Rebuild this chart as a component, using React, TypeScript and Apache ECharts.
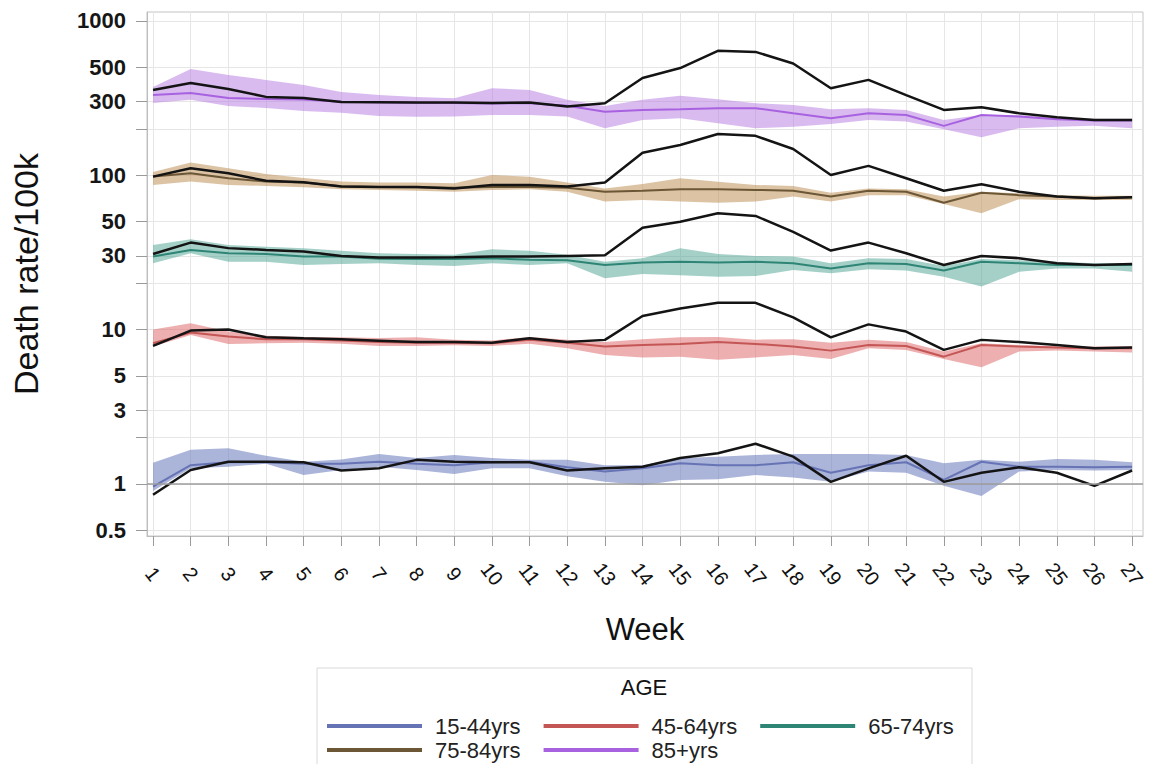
import React, { useEffect, useRef } from "react";
import * as echarts from "echarts";

const FONT = "'Liberation Sans', Arial, Helvetica, sans-serif";

const weeks = [1, 2, 3, 4, 5, 6, 7, 8, 9, 10, 11, 12, 13, 14, 15, 16, 17, 18, 19, 20, 21, 22, 23, 24, 25, 26, 27];
const ageGroups = ["15-44yrs", "45-64yrs", "65-74yrs", "75-84yrs", "85+yrs"];

const yTickValues = [0.5, 1, 2, 3, 5, 10, 20, 30, 50, 100, 200, 300, 500, 1000];
const yLabelValues = [0.5, 1, 3, 5, 10, 30, 50, 100, 300, 500, 1000];

// 15-44yrs
const obs15 = [0.85, 1.23, 1.39, 1.39, 1.38, 1.22, 1.26, 1.43, 1.39, 1.38, 1.38, 1.22, 1.26, 1.29, 1.47, 1.58, 1.82, 1.5, 1.03, 1.26, 1.52, 1.03, 1.18, 1.28, 1.18, 0.97, 1.22];
const exp15 = [0.96, 1.32, 1.38, 1.38, 1.35, 1.35, 1.39, 1.35, 1.32, 1.38, 1.39, 1.28, 1.2, 1.26, 1.36, 1.32, 1.32, 1.38, 1.18, 1.32, 1.38, 1.06, 1.39, 1.29, 1.29, 1.28, 1.29];
const up15 = [1.37, 1.66, 1.7, 1.52, 1.39, 1.44, 1.56, 1.47, 1.54, 1.47, 1.43, 1.43, 1.32, 1.32, 1.47, 1.5, 1.54, 1.56, 1.56, 1.56, 1.54, 1.36, 1.43, 1.39, 1.45, 1.43, 1.38];
const lo15 = [0.9, 1.26, 1.29, 1.35, 1.14, 1.23, 1.29, 1.23, 1.16, 1.26, 1.26, 1.12, 1.03, 0.98, 1.06, 1.07, 1.14, 1.1, 1.03, 1.2, 1.18, 0.97, 0.835, 1.2, 1.23, 1.22, 1.23];

// 45-64yrs
const obs45 = [7.83, 9.84, 10, 8.9, 8.77, 8.65, 8.47, 8.3, 8.3, 8.22, 8.77, 8.3, 8.57, 12.25, 13.7, 14.9, 14.9, 12, 8.9, 10.8, 9.7, 7.38, 8.57, 8.3, 7.94, 7.56, 7.64];
const exp45 = [8.15, 9.55, 9, 8.65, 8.65, 8.5, 8.3, 8.22, 8.22, 8.15, 8.57, 8.22, 7.75, 7.94, 8.07, 8.3, 8.07, 7.75, 7.3, 7.94, 7.83, 6.67, 7.94, 7.75, 7.64, 7.56, 7.56];
const up45 = [10, 11, 9.7, 9.1, 8.95, 8.9, 8.8, 8.9, 8.6, 8.5, 8.95, 8.6, 8.3, 8.65, 8.9, 8.95, 8.6, 8.65, 8.2, 8.57, 8.3, 7.2, 8.15, 7.94, 7.8, 7.75, 7.8];
const lo45 = [7.75, 9.22, 8.07, 8.15, 8.22, 8.1, 7.83, 7.83, 7.9, 7.83, 8.1, 7.56, 6.84, 6.6, 6.67, 6.36, 6.6, 6.84, 6.45, 7.56, 7.38, 6.45, 5.7, 7.2, 7.3, 7.2, 7.1];

// 65-74yrs
const obs65 = [30.9, 36.6, 33.7, 32.8, 32, 30, 29.3, 29.3, 29.4, 29.7, 29.7, 30, 30.3, 45.7, 50, 56.7, 54.5, 43, 32.5, 36.6, 31.2, 26.2, 30, 29, 26.9, 26.2, 26.6];
const exp65 = [29.7, 32.8, 31.2, 30.9, 29.7, 29.7, 28.8, 28.6, 28.6, 29, 28.3, 28.1, 26.2, 27.2, 27.5, 27.2, 27.5, 26.9, 24.9, 26.9, 26.6, 24.1, 27.5, 26.9, 26.2, 26.2, 26.2];
const up65 = [35.3, 38.5, 35.3, 34.4, 33.7, 32.4, 31.2, 30.9, 30.5, 33.1, 32.4, 30.5, 27.5, 29, 33.7, 30.9, 30, 29.7, 26.9, 29, 28.6, 25.8, 28.6, 28.1, 27.5, 26.9, 26.9];
const lo65 = [26.9, 31.2, 27.5, 27.5, 26.2, 26.6, 26.9, 26.2, 25.8, 26.9, 26.2, 26.9, 21.5, 22.9, 22.5, 22, 22.2, 24.3, 23.2, 24.6, 24.1, 22, 19, 23.7, 24.9, 24.9, 23.7];

// 75-84yrs
const obs75 = [98, 111, 103, 92, 90, 84.5, 84, 84, 82, 86.5, 86.5, 84.4, 89.6, 140, 157, 185, 180, 148, 100.5, 115, 95.6, 79.4, 87.4, 78.2, 72.7, 70.9, 71.9];
const exp75 = [98, 103, 95.6, 91, 89.6, 85, 84, 83.5, 83, 84, 84, 83, 78.3, 79.4, 81, 81, 80.3, 79.4, 72.7, 79.4, 78.2, 66.4, 77.1, 74.3, 72.7, 70.9, 71.9];
const up75 = [105, 121, 111, 102, 96, 91, 89.6, 89.6, 88.6, 100.5, 97.9, 89.6, 82.2, 87.8, 95.6, 90.9, 86.5, 85.3, 77.1, 82.2, 81.1, 72.7, 78.2, 76.5, 74.3, 73.5, 73.5];
const lo75 = [86.5, 91, 86.5, 85.3, 83.6, 81.1, 80.3, 79.4, 78.2, 80.3, 81, 78.2, 67.5, 69.2, 67.5, 66.4, 67.5, 72.7, 67.5, 74.3, 74.3, 65.2, 56.7, 70, 69.2, 69.2, 69.2];

// 85+yrs
const obs85 = [357, 396, 362, 322, 317, 298, 297, 296, 296, 294, 296, 279, 293, 427, 495, 640, 630, 530, 366, 415, 331, 265, 276, 252, 238, 228, 228];
const exp85 = [331, 341, 317, 312, 310, 300, 297, 295, 294, 292, 293, 282, 258, 265, 268, 272, 272, 252, 234, 252, 246, 209, 246, 240, 231, 226, 226];
const up85 = [373, 489, 447, 415, 385, 347, 331, 322, 315, 366, 357, 308, 281, 308, 327, 311, 293, 285, 268, 272, 265, 228, 246, 246, 235, 232, 232];
const lo85 = [294, 308, 281, 273, 261, 254, 242, 239, 240, 246, 246, 240, 202, 228, 234, 217, 202, 206, 215, 228, 223, 199, 176, 202, 206, 209, 202];

const observed = [obs15, obs45, obs65, obs75, obs85];
const expected = [exp15, exp45, exp65, exp75, exp85];
const upper = [up15, up45, up65, up75, up85];
const lower = [lo15, lo45, lo65, lo75, lo85];

const lineColors = ["#6673b5", "#c45656", "#2f8575", "#6b5636", "#a862e0"];
const bandColors = [
  "rgba(110,125,190,0.58)",
  "rgba(222,110,110,0.55)",
  "rgba(80,165,150,0.52)",
  "rgba(190,145,90,0.55)",
  "rgba(180,120,225,0.5)",
];

function bandSeries(i: number) {
  const lo = lower[i];
  const up = upper[i];
  return {
    type: "custom",
    name: ageGroups[i] + " band",
    silent: true,
    z: 1,
    data: weeks.map((w, k) => [w, lo[k], up[k]]),
    encode: { x: 0, y: [1, 2] },
    renderItem: (params: any, api: any) => {
      if (params.dataIndex !== 0) return null;
      const top = weeks.map((w, k) => api.coord([w, up[k]]));
      const bot = weeks.map((w, k) => api.coord([w, lo[k]])).reverse();
      return {
        type: "polygon",
        shape: { points: top.concat(bot) },
        style: { fill: bandColors[i], stroke: "none" },
      };
    },
  };
}

export default function App() {
  const ref = useRef<HTMLDivElement>(null);

  useEffect(() => {
    if (!ref.current) return;
    const chart = echarts.init(ref.current, undefined, { renderer: "svg" });

    const series: any[] = [];
    for (let i = 0; i < ageGroups.length; i++) series.push(bandSeries(i));
    for (let i = 0; i < ageGroups.length; i++) {
      const s: any = {
        type: "line",
        name: ageGroups[i],
        data: weeks.map((w, k) => [w, expected[i][k]]),
        symbol: "none",
        z: 3,
        lineStyle: { color: lineColors[i], width: 2 },
        itemStyle: { color: lineColors[i] },
      };
      if (i === 0) {
        s.markLine = {
          silent: true,
          symbol: "none",
          label: { show: false },
          lineStyle: { color: "#9c9c9c", width: 1.5, type: "solid" },
          data: [{ yAxis: 1 }],
        };
      }
      series.push(s);
    }
    for (let i = 0; i < ageGroups.length; i++) {
      series.push({
        type: "line",
        name: "Observed " + ageGroups[i],
        data: weeks.map((w, k) => [w, observed[i][k]]),
        symbol: "none",
        z: 4,
        lineStyle: { color: "#141414", width: 2.5 },
        itemStyle: { color: "#141414" },
      });
    }

    const legendCommon = {
      orient: "horizontal",
      left: 327,
      padding: 0,
      icon: "rect",
      itemWidth: 95,
      itemHeight: 4,
      itemGap: 23,
      selectedMode: false,
      textStyle: { fontSize: 22, color: "#222", fontFamily: FONT, lineHeight: 24, padding: [0, 0, 0, 8] },
    };

    chart.setOption({
      animation: false,
      backgroundColor: "#ffffff",
      textStyle: { fontFamily: FONT },
      grid: {
        left: 147,
        right: 8,
        top: 12,
        bottom: 228,
        show: true,
        borderColor: "#c4c4c4",
        borderWidth: 1,
      },
      xAxis: {
        type: "value",
        min: 0.84,
        max: 27.29,
        axisLine: { show: true, lineStyle: { color: "#bdbdbd" } },
        axisTick: { show: true, length: 10, customValues: weeks, lineStyle: { color: "#9a9a9a" } },
        axisLabel: {
          customValues: weeks,
          rotate: -52,
          align: "center",
          verticalAlign: "middle",
          margin: 38,
          fontSize: 20,
          color: "#111",
          fontFamily: FONT,
        },
        splitLine: { show: true, lineStyle: { color: "#e6e6e6", width: 1 } },
        name: "Week",
        nameLocation: "middle",
        nameGap: 78,
        nameTextStyle: { fontSize: 31, color: "#111", fontFamily: FONT },
      },
      yAxis: {
        type: "log",
        logBase: 10,
        min: 0.459,
        max: 1143,
        axisLine: { show: true, lineStyle: { color: "#bdbdbd" } },
        axisTick: { show: true, length: 11, customValues: yTickValues, lineStyle: { color: "#9a9a9a" } },
        axisLabel: {
          customValues: yLabelValues,
          margin: 21,
          fontSize: 22,
          fontWeight: "bold",
          color: "#161616",
          fontFamily: FONT,
          formatter: (v: number) => String(Number(Number(v).toPrecision(4))),
        },
        splitLine: { show: true, lineStyle: { color: "#e6e6e6", width: 1 } },
        name: "Death rate/100k",
        nameLocation: "middle",
        nameRotate: 90,
        nameGap: 104,
        nameTextStyle: { fontSize: 34, color: "#111", fontFamily: FONT },
      },
      legend: [
        { ...legendCommon, top: 714, data: ageGroups.slice(0, 3) },
        { ...legendCommon, top: 738, data: ageGroups.slice(3, 5) },
      ],
      graphic: [
        {
          type: "rect",
          silent: true,
          shape: { x: 317, y: 668, width: 655, height: 110 },
          style: { fill: "none", stroke: "#d9d9d9", lineWidth: 1 },
        },
        {
          type: "text",
          silent: true,
          x: 644,
          y: 687,
          style: {
            text: "AGE",
            fontSize: 22,
            fontFamily: FONT,
            fill: "#111",
            textAlign: "center",
            textVerticalAlign: "middle",
          },
        },
      ],
      series,
    });

    return () => chart.dispose();
  }, []);

  return (
    <div
      ref={ref}
      style={{ position: "absolute", left: 0, top: 0, width: 1151, height: 764 }}
    />
  );
}
